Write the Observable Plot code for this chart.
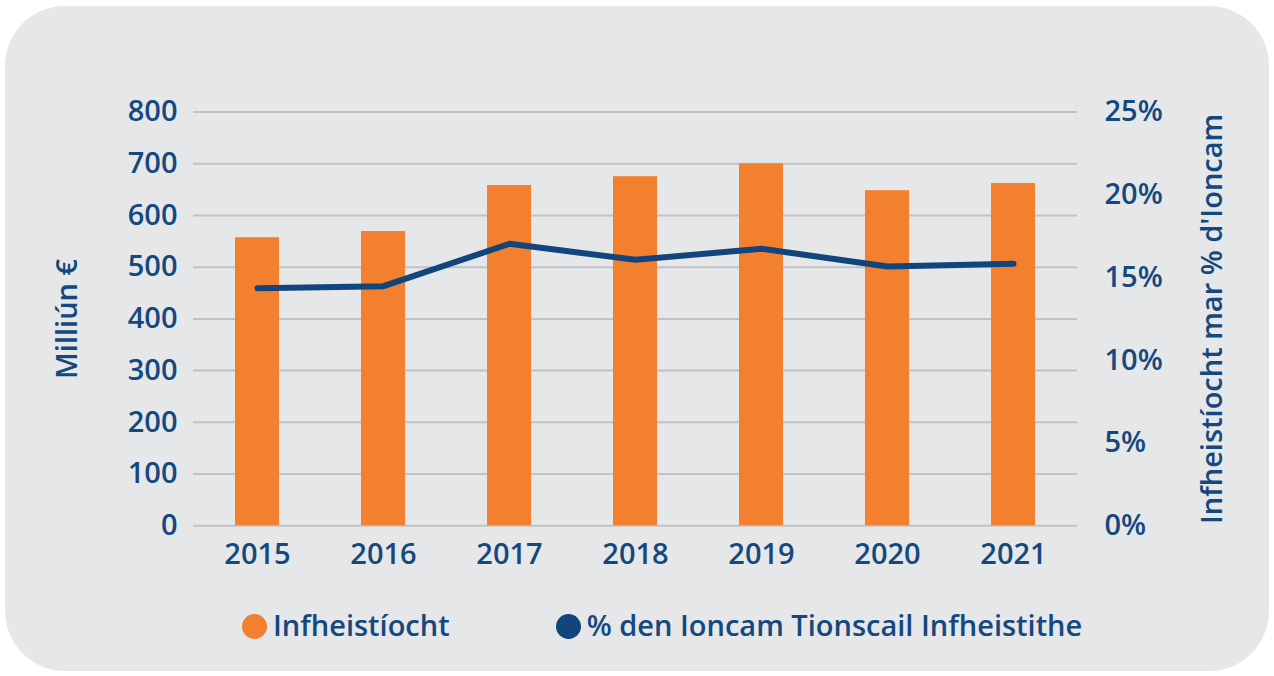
<!DOCTYPE html>
<html>
<head>
<meta charset="utf-8">
<script src="https://cdn.jsdelivr.net/npm/d3@7"></script>
<script src="https://cdn.jsdelivr.net/npm/@observablehq/plot@0.6"></script>
<style>
  html, body { margin: 0; padding: 0; background: #ffffff; }
  #page { position: relative; width: 1274px; height: 676px; overflow: hidden; font-family: "Open Sans", sans-serif; }
  #card { position: absolute; left: 5px; top: 6px; width: 1264px; height: 665px; background: #e6e7e9; border-radius: 60px; }
  #chart { position: absolute; left: 0; top: 0; }
  #legend { position: absolute; left: 242px; top: 605px; display: flex; align-items: center; font-size: 29px; font-weight: 600; color: #15487d; white-space: nowrap; }
  .item { display: flex; align-items: center; }
  .sw { width: 25px; height: 25px; border-radius: 50%; margin-right: 6px; margin-top: 4px; }
</style>
</head>
<body>
<div id="page">
  <div id="card"></div>
  <div id="chart"></div>
  <div id="legend"></div>
</div>
<script>
const years = ["2015", "2016", "2017", "2018", "2019", "2020", "2021"];
const investment = [557, 569, 658, 675, 700, 648, 662];          // Milliún €
const pctOfIncome = [14.36, 14.48, 17.04, 16.07, 16.74, 15.67, 15.83]; // %
const leftTicks = [0, 100, 200, 300, 400, 500, 600, 700, 800];
const rightTicksPct = [0, 5, 10, 15, 20, 25];
const seriesNames = ["Infheistíocht", "% den Ioncam Tionscail Infheistithe"];
const seriesColors = ["#f3802e", "#12457b"];
const leftLabel = "Milliún €";
const rightLabel = "Infheistíocht mar % d'Ioncam";

const pctScale = 800 / 25; // right axis 0–25% aligned with left 0–800

const data = years.map((y, i) => ({year: y, value: investment[i], pct: pctOfIncome[i]}));

const textColor = "#15487d";
const gridColor = "#c1c2c4";

const chart = Plot.plot({
  width: 1274,
  height: 590,
  marginLeft: 193,
  marginRight: 197,
  marginTop: 111.6,
  marginBottom: 64.8,
  style: {background: "transparent", fontFamily: "'Open Sans', sans-serif", fontSize: "29px", fontWeight: 600, color: textColor, overflow: "visible"},
  x: {domain: years, paddingInner: 0.65, paddingOuter: 0.325},
  y: {domain: [0, 800]},
  marks: [
    Plot.ruleY(leftTicks, {stroke: gridColor, strokeWidth: 2}),
    Plot.barY(data, {x: "year", y: "value", fill: seriesColors[0]}),
    Plot.line(data, {x: "year", y: d => d.pct * pctScale, stroke: seriesColors[1], strokeWidth: 6, strokeLinecap: "round", strokeLinejoin: "round"}),
    Plot.axisY(leftTicks, {anchor: "left", tickSize: 0, tickPadding: 16, fontSize: 29, fontWeight: 600, fill: textColor,
      label: leftLabel, labelAnchor: "center", labelArrow: "none", labelOffset: 137}),
    Plot.axisY(rightTicksPct.map(p => p * pctScale), {anchor: "right", tickSize: 0, tickPadding: 27, fontSize: 29, fontWeight: 600, fill: textColor,
      tickFormat: d => `${d / pctScale}%`, textAnchor: "start",
      label: rightLabel, labelAnchor: "center", labelArrow: "none", labelOffset: 144}),
    Plot.axisX({anchor: "bottom", tickSize: 0, tickPadding: 18, fontSize: 29, fontWeight: 600, fill: textColor, label: null})
  ]
});
document.getElementById("chart").appendChild(chart);

const legend = document.getElementById("legend");
seriesNames.forEach((name, i) => {
  const item = document.createElement("div");
  item.className = "item";
  if (i > 0) item.style.marginLeft = "106px";
  const sw = document.createElement("span");
  sw.className = "sw";
  sw.style.background = seriesColors[i];
  const t = document.createElement("span");
  t.textContent = name;
  item.appendChild(sw);
  item.appendChild(t);
  legend.appendChild(item);
});
</script>
</body>
</html>
